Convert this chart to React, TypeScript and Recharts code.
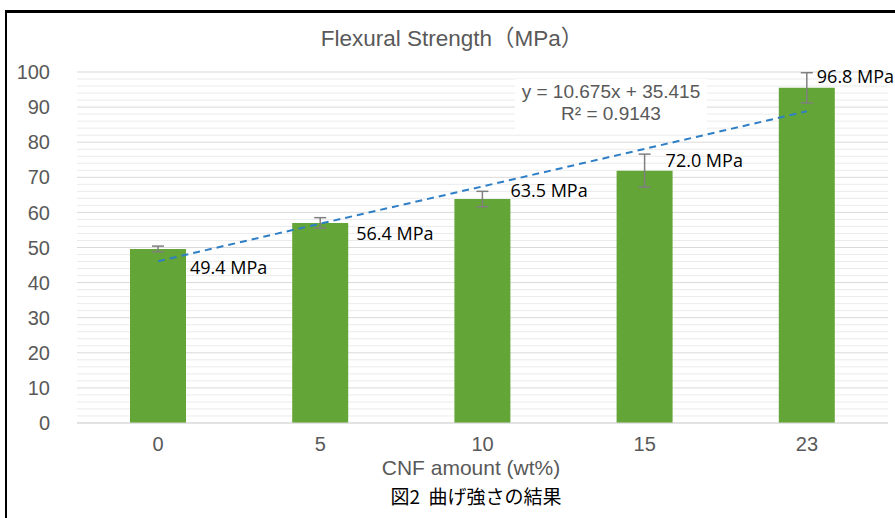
import { ComposedChart, Bar, Line, XAxis, YAxis, CartesianGrid, ErrorBar, LabelList } from 'recharts';

// CNF amount (wt%) categories
const categories = ['0', '5', '10', '15', '23'];
// bar heights
const strength = [49.6, 57.0, 63.8, 71.9, 95.5];
// +/- error bar half-lengths
const errors = [0.8, 1.5, 2.2, 4.7, 4.3];
// printed data labels
const labels = ['49.4 MPa', '56.4 MPa', '63.5 MPa', '72.0 MPa', '96.8 MPa'];
// linear trendline values at each category
const trend = [46.1, 56.8, 67.4, 78.1, 88.8];
const yTicks = [0, 10, 20, 30, 40, 50, 60, 70, 80, 90, 100];

// label placement tweaks (px, relative to bar centre / bar top)
const labelDx = [32, 36, 28, 21, 10];
const labelDy = [18, 10, -9, -11, -12];

const minorTicks = Array.from({ length: 50 }, (_, i) => i * 2).filter(v => v % 10 !== 0);

const chartData = categories.map((c, i) => ({
  name: c,
  strength: strength[i],
  err: errors[i],
  label: labels[i],
  trend: trend[i],
}));

const gray = '#595959';
const latin = '"Liberation Sans", "Noto Sans CJK JP", sans-serif';

// minor gridlines every 2 MPa, placed through the y axis scale
const minorGrid = (props: any) => {
  const { yAxis, offset } = props;
  const scale = yAxis && yAxis.scale;
  if (typeof scale === 'function') return minorTicks.map(v => scale(v));
  return minorTicks.map(v => offset.top + ((100 - v) / 100) * offset.height);
};

const renderLabel = (props: any) => {
  const { x, y, width, index, value } = props;
  const cx = Number(x) + Number(width) / 2;
  return (
    <text
      x={cx + labelDx[index]}
      y={Number(y) + labelDy[index]}
      dominantBaseline="central"
      textAnchor="start"
      fontFamily='"Open Sans", sans-serif'
      fontSize={18}
      fill="#000"
    >
      {value}
    </text>
  );
};

export default function App() {
  return (
    <div style={{ position: 'absolute', left: 0, top: 0, width: 895, height: 518, background: '#fff', overflow: 'hidden' }}>
      <div
        style={{
          position: 'absolute', left: 5, top: 10, width: 900, height: 520,
          borderLeft: '2px solid #000', borderTop: '3px solid #000',
        }}
      />
      <div
        style={{
          position: 'absolute', left: 252, top: 25, width: 400, textAlign: 'center',
          fontFamily: latin, fontSize: 22.5, color: gray, lineHeight: '28px',
        }}
      >
        Flexural Strength（MPa）
      </div>
      <ComposedChart
        width={895}
        height={518}
        data={chartData}
        margin={{ top: 72, right: 7, left: 0, bottom: 65 }}
        style={{ position: 'absolute', left: 0, top: 0 }}
      >
        <CartesianGrid vertical={false} stroke="#ebebeb" horizontalCoordinatesGenerator={minorGrid} syncWithTicks={false} />
        <CartesianGrid vertical={false} stroke="#d9d9d9" />
        <XAxis
          dataKey="name"
          height={30}
          tickSize={0}
          tickMargin={14}
          axisLine={{ stroke: '#d9d9d9' }}
          tick={{ fill: gray, fontSize: 20, fontFamily: latin }}
        />
        <YAxis
          width={77}
          domain={[0, 100]}
          ticks={yTicks}
          axisLine={false}
          tickSize={0}
          tickMargin={27}
          tick={{ fill: gray, fontSize: 20, fontFamily: latin }}
        />
        <Bar dataKey="strength" fill="#63a537" barSize={56} isAnimationActive={false}>
          <ErrorBar dataKey="err" stroke="#7f7f7f" strokeWidth={1.5} width={6} />
          <LabelList dataKey="label" content={renderLabel} />
        </Bar>
        <Line
          dataKey="trend"
          stroke="#2e7fc6"
          strokeWidth={2}
          strokeDasharray="7 5"
          dot={false}
          activeDot={false}
          isAnimationActive={false}
        />
      </ComposedChart>
      <div
        style={{
          position: 'absolute', left: 515, top: 79, width: 192, height: 48, background: '#fff',
          textAlign: 'center', fontFamily: latin, fontSize: 19, color: gray, lineHeight: '22px', paddingTop: 2,
        }}
      >
        y = 10.675x + 35.415
        <br />
        R² = 0.9143
      </div>
      <div
        style={{
          position: 'absolute', left: 271, top: 456, width: 400, textAlign: 'center',
          fontFamily: latin, fontSize: 21, color: gray, lineHeight: '24px',
        }}
      >
        CNF amount (wt%)
      </div>
      <div
        style={{
          position: 'absolute', left: 276, top: 483, width: 400, textAlign: 'center',
          fontFamily: '"Noto Sans CJK JP", sans-serif', fontSize: 19, fontWeight: 400, color: '#000', lineHeight: '26px',
        }}
      >
        図2&nbsp;&nbsp;曲げ強さの結果
      </div>
    </div>
  );
}
